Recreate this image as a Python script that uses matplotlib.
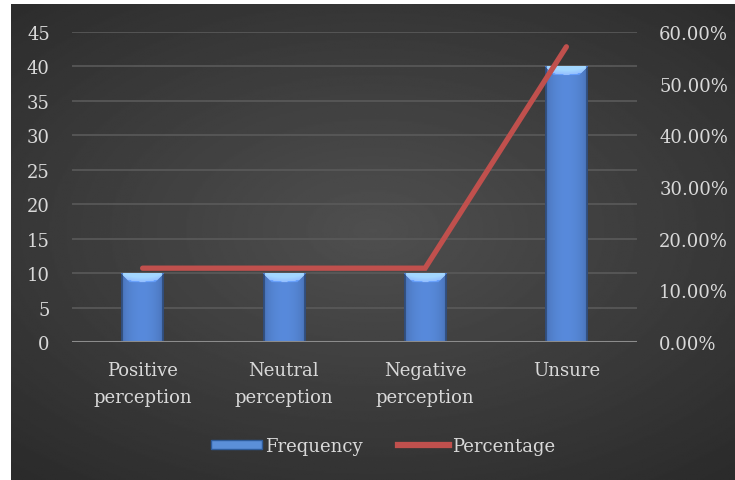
import numpy as np
import matplotlib.pyplot as plt
from matplotlib.lines import Line2D
from matplotlib.patches import Patch

categories = ['Positive\nperception', 'Neutral\nperception', 'Negative\nperception', 'Unsure']
frequency = [10, 10, 10, 40]
percentage = [14.29, 14.29, 14.29, 57.14]

plt.rcParams['font.family'] = ['DejaVu Serif']
text_color = '#d9d9d9'
fs = 13

fig = plt.figure(figsize=(7.35, 4.81), dpi=100, facecolor='white')

# dark radial background behind the whole chart
bg = fig.add_axes([11 / 735, 0, 1 - 11 / 735, 1 - 5 / 481], zorder=-10)
yy, xx = np.mgrid[-1:1:300j, -1:1:450j]
r = np.sqrt((xx * 0.9) ** 2 + ((yy + 0.05) * 1.0) ** 2)
shade = 0.31 - 0.14 * np.clip(r / 1.35, 0, 1)
bg.imshow(shade, cmap='gray', vmin=0, vmax=1, aspect='auto', extent=[0, 1, 0, 1])
bg.set_axis_off()

ax = fig.add_axes([72 / 735, 1 - 343 / 481, (637 - 72) / 735, (343 - 33) / 481])
ax.set_facecolor('none')
x = np.arange(len(categories))

bars = ax.bar(x, frequency, width=0.3, color='none', zorder=3)
ax.set_xlim(-0.5, len(categories) - 0.5)
ax.set_ylim(0, 45)

# bevelled blue fill for each bar
fig.canvas.draw()
for b in bars:
    x0, y0, w, h = b.get_x(), b.get_y(), b.get_width(), b.get_height()
    (px0, py0), (px1, py1) = ax.transData.transform([(x0, y0), (x0 + w, y0 + h)])
    hp, wp = int(abs(py1 - py0)), int(abs(px1 - px0))
    u = np.linspace(0, 1, wp)
    base = 0.66 + 0.16 * np.sin(np.pi * u) ** 0.6
    img = np.tile(base, (hp, 1))
    bev = 9
    for i in range(min(bev, hp)):
        t = 1 - i / bev
        img[i, i:wp - i] = np.minimum(1.1, img[i, i:wp - i] + 0.3 * t + 0.1)
    img[:, :2] *= 0.7
    img[:, -2:] *= 0.7
    rgb = np.zeros((hp, wp, 3))
    rgb[..., 0] = np.clip(img * 0.42 + (img > 0.95) * 0.18, 0, 1)
    rgb[..., 1] = np.clip(img * 0.66 + (img > 0.95) * 0.12, 0, 1)
    rgb[..., 2] = np.clip(img * 1.05, 0, 1)
    ax.imshow(rgb, extent=[x0, x0 + w, y0, y0 + h], aspect='auto', zorder=3, interpolation='bilinear')
ax.set_xlim(-0.5, len(categories) - 0.5)
ax.set_ylim(0, 45)

ax.set_yticks(np.arange(0, 46, 5))
ax.grid(axis='y', color='#5a5a5a', linewidth=1.2, zorder=0)
ax.axhline(0, color='#8c8c8c', linewidth=2.2, zorder=4)
ax.set_xticks(x)
ax.set_xticklabels(categories, linespacing=1.6)
for s in ax.spines.values():
    s.set_visible(False)
ax.tick_params(axis='both', length=0, colors=text_color, labelsize=fs)
ax.tick_params(axis='y', pad=16)
ax.tick_params(axis='x', pad=14)

ax2 = ax.twinx()
ax2.plot(x, percentage, color='#c0504d', linewidth=3.8, solid_capstyle='round',
         solid_joinstyle='miter', zorder=5)
ax2.set_ylim(0, 60)
ax2.set_yticks(np.arange(0, 61, 10))
ax2.set_yticklabels([f'{v:.2f}%' for v in np.arange(0, 61, 10)])
for s in ax2.spines.values():
    s.set_visible(False)
ax2.tick_params(axis='y', length=0, colors=text_color, labelsize=fs, pad=16)

handles = [Patch(facecolor='#5b8fd8', edgecolor='#2e5b9a', label='Frequency'),
           Line2D([0], [0], color='#c0504d', linewidth=4.5, label='Percentage')]
fig.legend(handles=handles, loc='center', bbox_to_anchor=(383 / 735, 1 - 447 / 481), ncol=2,
           frameon=False, fontsize=fs, labelcolor=text_color, handlelength=2.8,
           handleheight=0.45, handletextpad=0.15, columnspacing=2.0)

fig.savefig('out.png', dpi=100, facecolor='white')
